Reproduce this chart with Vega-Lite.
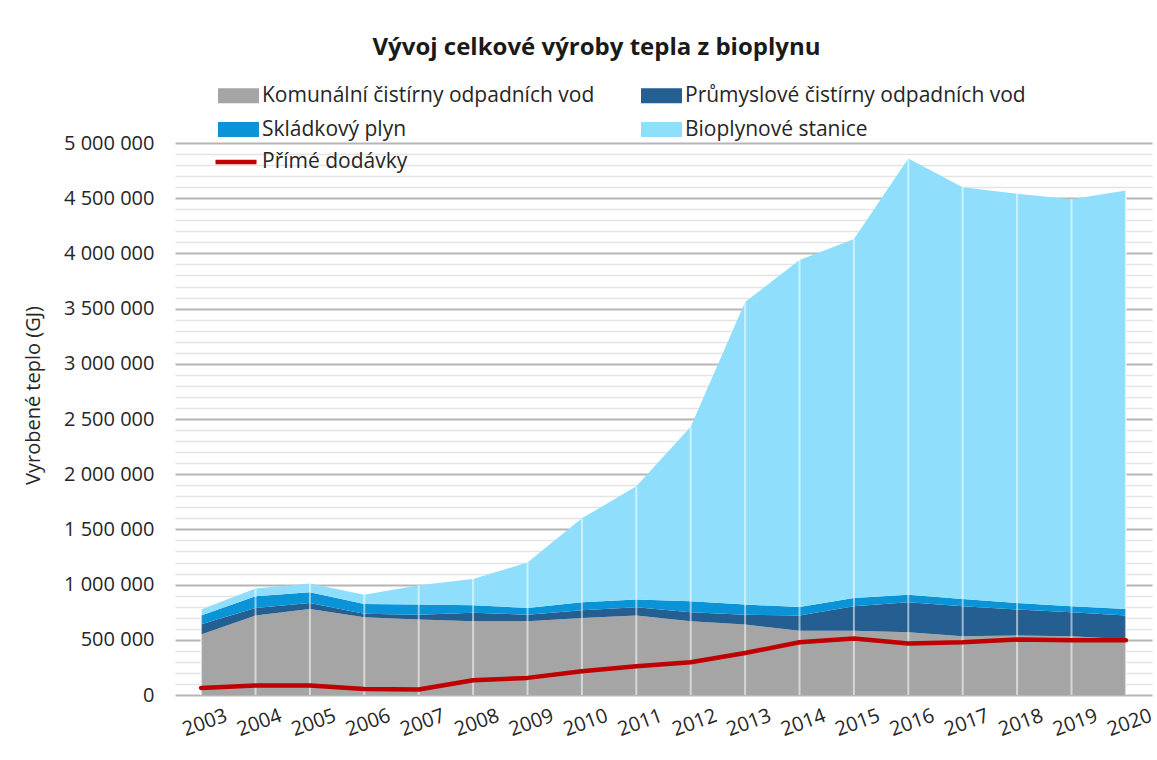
{
  "$schema": "https://vega.github.io/schema/vega-lite/v6.json",
  "autosize": {"type": "none"},
  "padding": {"left": 175, "top": 143, "right": 5, "bottom": 65},
  "width": 977,
  "height": 552,
  "background": "white",
  "title": {
    "text": "Vývoj celkové výroby tepla z bioplynu",
    "font": "Open Sans",
    "fontSize": 24,
    "fontWeight": "bold",
    "color": "#1a1a1a",
    "anchor": "middle",
    "frame": "group",
    "dx": -67,
    "offset": 25
  },
  "config": {
    "font": "Open Sans",
    "view": {"stroke": null},
    "locale": {"number": {"decimal": ",", "thousands": " ", "grouping": [3], "currency": ["", " Kč"]}},
    "axisY": {
      "titleFont": "Open Sans",
      "titleFontSize": 20,
      "titleFontWeight": "normal",
      "titleColor": "#262626",
      "titleX": -142,
      "titleY": 252,
      "titleAlign": "center",
      "titleBaseline": "middle",
      "titleAngle": -90,
      "domain": false,
      "ticks": false,
      "labelPadding": 21,
      "labelFontSize": 20,
      "labelColor": "#262626",
      "labelOverlap": false
    }
  },
  "datasets": {
    "vyroba": [
      {"rok": "2003", "Komunální čistírny odpadních vod": 547000, "Průmyslové čistírny odpadních vod": 93000, "Skládkový plyn": 80000, "Bioplynové stanice": 55000, "Přímé dodávky": 64000},
      {"rok": "2004", "Komunální čistírny odpadních vod": 719000, "Průmyslové čistírny odpadních vod": 70000, "Skládkový plyn": 105000, "Bioplynové stanice": 70000, "Přímé dodávky": 85000},
      {"rok": "2005", "Komunální čistírny odpadních vod": 780000, "Průmyslové čistírny odpadních vod": 54000, "Skládkový plyn": 96000, "Bioplynové stanice": 80000, "Přímé dodávky": 85000},
      {"rok": "2006", "Komunální čistírny odpadních vod": 704000, "Průmyslové čistírny odpadních vod": 31000, "Skládkový plyn": 90000, "Bioplynové stanice": 84000, "Přímé dodávky": 55000},
      {"rok": "2007", "Komunální čistírny odpadních vod": 683000, "Průmyslové čistírny odpadních vod": 45000, "Skládkový plyn": 91000, "Bioplynové stanice": 175000, "Přímé dodávky": 50000},
      {"rok": "2008", "Komunální čistírny odpadních vod": 668000, "Průmyslové čistírny odpadních vod": 76000, "Skládkový plyn": 69000, "Bioplynové stanice": 237000, "Přímé dodávky": 133000},
      {"rok": "2009", "Komunální čistírny odpadních vod": 668000, "Průmyslové čistírny odpadních vod": 60000, "Skládkový plyn": 61000, "Bioplynové stanice": 411000, "Přímé dodávky": 155000},
      {"rok": "2010", "Komunální čistírny odpadních vod": 698000, "Průmyslové čistírny odpadních vod": 69000, "Skládkový plyn": 73000, "Bioplynové stanice": 760000, "Přímé dodávky": 215000},
      {"rok": "2011", "Komunální čistírny odpadních vod": 719000, "Průmyslové čistírny odpadních vod": 75000, "Skládkový plyn": 70000, "Bioplynové stanice": 1026000, "Přímé dodávky": 260000},
      {"rok": "2012", "Komunální čistírny odpadních vod": 668000, "Průmyslové čistírny odpadních vod": 81000, "Skládkový plyn": 100000, "Bioplynové stanice": 1581000, "Přímé dodávky": 296000},
      {"rok": "2013", "Komunální čistírny odpadních vod": 638000, "Průmyslové čistírny odpadních vod": 90000, "Skládkový plyn": 91000, "Bioplynové stanice": 2741000, "Přímé dodávky": 380000},
      {"rok": "2014", "Komunální čistírny odpadních vod": 583000, "Průmyslové čistírny odpadních vod": 136000, "Skládkový plyn": 79000, "Bioplynové stanice": 3142000, "Přímé dodávky": 478000},
      {"rok": "2015", "Komunální čistírny odpadních vod": 583000, "Průmyslové čistírny odpadních vod": 221000, "Skládkový plyn": 75000, "Bioplynové stanice": 3251000, "Přímé dodávky": 511000},
      {"rok": "2016", "Komunální čistírny odpadních vod": 568000, "Průmyslové čistírny odpadních vod": 272000, "Skládkový plyn": 69000, "Bioplynové stanice": 3951000, "Přímé dodávky": 466000},
      {"rok": "2017", "Komunální čistírny odpadních vod": 532000, "Průmyslové čistírny odpadních vod": 272000, "Skládkový plyn": 66000, "Bioplynové stanice": 3730000, "Přímé dodávky": 478000},
      {"rok": "2018", "Komunální čistírny odpadních vod": 538000, "Průmyslové čistírny odpadních vod": 236000, "Skládkový plyn": 60000, "Bioplynové stanice": 3706000, "Přímé dodávky": 502000},
      {"rok": "2019", "Komunální čistírny odpadních vod": 532000, "Průmyslové čistírny odpadních vod": 217000, "Skládkový plyn": 55000, "Bioplynové stanice": 3686000, "Přímé dodávky": 496000},
      {"rok": "2020", "Komunální čistírny odpadních vod": 505000, "Průmyslové čistírny odpadních vod": 215000, "Skládkový plyn": 60000, "Bioplynové stanice": 3790000, "Přímé dodávky": 495000}
    ],
    "poradi": [
      {"serie": "Komunální čistírny odpadních vod", "poradi": 1},
      {"serie": "Průmyslové čistírny odpadních vod", "poradi": 2},
      {"serie": "Skládkový plyn", "poradi": 3},
      {"serie": "Bioplynové stanice", "poradi": 4}
    ]
  },
  "data": {"name": "vyroba"},
  "encoding": {
    "x": {
      "field": "rok",
      "type": "ordinal",
      "scale": {"type": "point", "padding": 0.48},
      "axis": {
        "title": null,
        "domain": false,
        "ticks": false,
        "grid": false,
        "labelAngle": -20,
        "labelAlign": "center",
        "labelBaseline": "top",
        "labelPadding": 18,
        "labelFontSize": 20,
        "labelColor": "#262626",
        "labelFont": "Open Sans"
      }
    }
  },
  "layer": [
    {
      "transform": [
        {"fold": ["Komunální čistírny odpadních vod", "Průmyslové čistírny odpadních vod", "Skládkový plyn", "Bioplynové stanice"], "as": ["serie", "hodnota"]},
        {"lookup": "serie", "from": {"data": {"name": "poradi"}, "key": "serie", "fields": ["poradi"]}}
      ],
      "mark": {"type": "area", "opacity": 1},
      "encoding": {
        "y": {
          "field": "hodnota",
          "type": "quantitative",
          "stack": "zero",
          "scale": {"domain": [0, 5000000], "nice": false, "zero": true},
          "axis": {
            "title": "Vyrobené teplo (GJ)",
            "labelExpr": "datum.value % 500000 === 0 ? format(datum.value, ',') : ''",
            "values": [0, 100000, 200000, 300000, 400000, 500000, 600000, 700000, 800000, 900000, 1000000, 1100000, 1200000, 1300000, 1400000, 1500000, 1600000, 1700000, 1800000, 1900000, 2000000, 2100000, 2200000, 2300000, 2400000, 2500000, 2600000, 2700000, 2800000, 2900000, 3000000, 3100000, 3200000, 3300000, 3400000, 3500000, 3600000, 3700000, 3800000, 3900000, 4000000, 4100000, 4200000, 4300000, 4400000, 4500000, 4600000, 4700000, 4800000, 4900000, 5000000],
            "grid": true,
            "gridColor": {"condition": {"test": "datum.value % 500000 === 0", "value": "#b5b5b5"}, "value": "#e4e4e4"},
            "gridWidth": {"condition": {"test": "datum.value % 500000 === 0", "value": 2}, "value": 1.5}
          }
        },
        "color": {
          "field": "serie",
          "type": "nominal",
          "scale": {
            "domain": ["Komunální čistírny odpadních vod", "Průmyslové čistírny odpadních vod", "Skládkový plyn", "Bioplynové stanice"],
            "range": ["#a5a5a5", "#255e91", "#0a93d6", "#8fdffc"]
          },
          "legend": {
            "title": null,
            "orient": "none",
            "legendX": 53,
            "legendY": -58,
            "columns": 2,
            "direction": "horizontal",
            "padding": 0,
            "columnPadding": 46,
            "rowPadding": 12,
            "symbolType": "M-2,-0.73H2V0.73H-2Z",
            "symbolSize": 420,
            "symbolStrokeWidth": 0,
            "labelOffset": 13,
            "labelFont": "Open Sans",
            "labelFontSize": 21,
            "labelColor": "#262626",
            "labelLimit": 500
          }
        },
        "order": {"field": "poradi", "type": "quantitative", "sort": "ascending"}
      }
    },
    {
      "transform": [
        {"fold": ["Komunální čistírny odpadních vod", "Průmyslové čistírny odpadních vod", "Skládkový plyn", "Bioplynové stanice"], "as": ["serie", "hodnota"]},
        {"aggregate": [{"op": "sum", "field": "hodnota", "as": "celkem"}], "groupby": ["rok"]}
      ],
      "mark": {"type": "rule", "color": "white", "opacity": 0.55, "strokeWidth": 2},
      "encoding": {
        "y": {
          "field": "celkem",
          "type": "quantitative",
          "axis": {
            "title": "Vyrobené teplo (GJ)",
            "labelExpr": "datum.value % 500000 === 0 ? format(datum.value, ',') : ''",
            "values": [0, 100000, 200000, 300000, 400000, 500000, 600000, 700000, 800000, 900000, 1000000, 1100000, 1200000, 1300000, 1400000, 1500000, 1600000, 1700000, 1800000, 1900000, 2000000, 2100000, 2200000, 2300000, 2400000, 2500000, 2600000, 2700000, 2800000, 2900000, 3000000, 3100000, 3200000, 3300000, 3400000, 3500000, 3600000, 3700000, 3800000, 3900000, 4000000, 4100000, 4200000, 4300000, 4400000, 4500000, 4600000, 4700000, 4800000, 4900000, 5000000],
            "grid": true,
            "gridColor": {"condition": {"test": "datum.value % 500000 === 0", "value": "#b5b5b5"}, "value": "#e4e4e4"},
            "gridWidth": {"condition": {"test": "datum.value % 500000 === 0", "value": 2}, "value": 1.5}
          }
        },
        "y2": {"datum": 0}
      }
    },
    {
      "mark": {"type": "line", "strokeWidth": 4.5, "strokeCap": "round", "strokeJoin": "round"},
      "encoding": {
        "y": {
          "field": "Přímé dodávky",
          "type": "quantitative",
          "axis": {
            "title": "Vyrobené teplo (GJ)",
            "labelExpr": "datum.value % 500000 === 0 ? format(datum.value, ',') : ''",
            "values": [0, 100000, 200000, 300000, 400000, 500000, 600000, 700000, 800000, 900000, 1000000, 1100000, 1200000, 1300000, 1400000, 1500000, 1600000, 1700000, 1800000, 1900000, 2000000, 2100000, 2200000, 2300000, 2400000, 2500000, 2600000, 2700000, 2800000, 2900000, 3000000, 3100000, 3200000, 3300000, 3400000, 3500000, 3600000, 3700000, 3800000, 3900000, 4000000, 4100000, 4200000, 4300000, 4400000, 4500000, 4600000, 4700000, 4800000, 4900000, 5000000],
            "grid": true,
            "gridColor": {"condition": {"test": "datum.value % 500000 === 0", "value": "#b5b5b5"}, "value": "#e4e4e4"},
            "gridWidth": {"condition": {"test": "datum.value % 500000 === 0", "value": 2}, "value": 1.5}
          }
        },
        "stroke": {
          "datum": "Přímé dodávky",
          "type": "nominal",
          "scale": {"domain": ["Přímé dodávky"], "range": ["#c00000"]},
          "legend": {
            "title": null,
            "orient": "none",
            "legendX": 38,
            "legendY": -4,
            "padding": 0,
            "symbolType": "stroke",
            "symbolSize": 1681,
            "symbolStrokeWidth": 4.5,
            "labelOffset": 3,
            "labelFont": "Open Sans",
            "labelFontSize": 21,
            "labelColor": "#262626",
            "labelLimit": 500
          }
        }
      }
    }
  ]
}
